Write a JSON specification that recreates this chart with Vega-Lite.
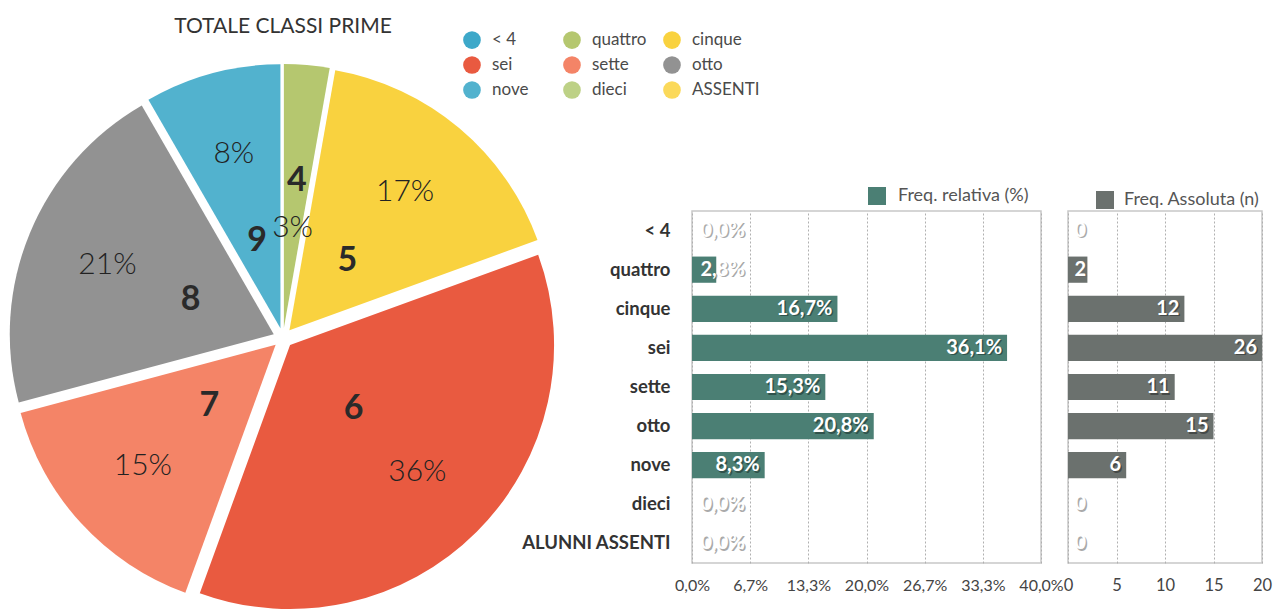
{
  "$schema": "https://vega.github.io/schema/vega-lite/v6.json",
  "background": "white",
  "padding": {"left": 0, "top": 16, "right": 0, "bottom": 0},
  "config": {
    "font": "Lato",
    "view": {"stroke": "#c8c8c8", "strokeWidth": 1.5}
  },
  "datasets": {
    "d": [
      {"ord": 1, "cat": "< 4", "label": "< 4", "digit": "", "n": 0, "pct": 0, "pctLabel": "0,0%", "pieLabel": "0%"},
      {"ord": 2, "cat": "quattro", "label": "quattro", "digit": "4", "n": 2, "pct": 2.78, "pctLabel": "2,8%", "pieLabel": "3%"},
      {"ord": 3, "cat": "cinque", "label": "cinque", "digit": "5", "n": 12, "pct": 16.67, "pctLabel": "16,7%", "pieLabel": "17%"},
      {"ord": 4, "cat": "sei", "label": "sei", "digit": "6", "n": 26, "pct": 36.11, "pctLabel": "36,1%", "pieLabel": "36%"},
      {"ord": 5, "cat": "sette", "label": "sette", "digit": "7", "n": 11, "pct": 15.28, "pctLabel": "15,3%", "pieLabel": "15%"},
      {"ord": 6, "cat": "otto", "label": "otto", "digit": "8", "n": 15, "pct": 20.83, "pctLabel": "20,8%", "pieLabel": "21%"},
      {"ord": 7, "cat": "nove", "label": "nove", "digit": "9", "n": 6, "pct": 8.33, "pctLabel": "8,3%", "pieLabel": "8%"},
      {"ord": 8, "cat": "dieci", "label": "dieci", "digit": "10", "n": 0, "pct": 0, "pctLabel": "0,0%", "pieLabel": "0%"},
      {"ord": 9, "cat": "ASSENTI", "label": "ALUNNI ASSENTI", "digit": "", "n": 0, "pct": 0, "pctLabel": "0,0%", "pieLabel": "0%"}
    ]
  },
  "spacing": -46,
  "hconcat": [
    {
      "width": 566,
      "height": 254,
      "view": {"stroke": null},
      "title": {"text": "TOTALE CLASSI PRIME", "fontSize": 21, "fontWeight": "normal", "color": "#333333", "offset": 27, "anchor": "middle"},
      "data": {"name": "d"},
      "encoding": {
        "theta": {"field": "n", "type": "quantitative", "stack": true},
        "order": {"field": "ord", "type": "quantitative"}
      },
      "layer": [
        {
          "mark": {
            "type": "arc",
            "outerRadius": 264,
            "xOffset": {"expr": "10*sin(PI*(datum.n_start+datum.n_end)/72)"},
            "yOffset": {"expr": "-10*cos(PI*(datum.n_start+datum.n_end)/72)"}
          },
          "encoding": {
            "color": {
              "field": "cat",
              "type": "nominal",
              "sort": null,
              "scale": {
                "domain": ["< 4", "quattro", "cinque", "sei", "sette", "otto", "nove", "dieci", "ASSENTI"],
                "range": ["#3DA8C9", "#B5C76F", "#F9D23F", "#E95A40", "#F48467", "#929292", "#52B2CE", "#BDD186", "#FBD95A"]
              },
              "legend": {
                "orient": "none",
                "direction": "horizontal",
                "legendX": 463,
                "legendY": -180,
                "title": null,
                "columns": 3,
                "gridAlign": "all",
                "columnPadding": 3,
                "rowPadding": 7,
                "padding": 0,
                "symbolType": "circle",
                "symbolSize": 313,
                "symbolStrokeWidth": 0,
                "labelFontSize": 17,
                "labelColor": "#4a4a4a",
                "labelOffset": 11
              }
            }
          }
        },
        {
          "mark": {"type": "text", "radius": 190, "fontSize": 30, "fontWeight": 300, "fill": "#222222", "baseline": "middle"},
          "encoding": {"text": {"condition": {"test": "datum.n > 0 && datum.cat !== 'quattro'", "field": "pieLabel"}, "value": ""}}
        },
        {
          "mark": {"type": "text", "radius": 100, "fontSize": 34, "fontWeight": "bold", "fill": "#2a2a2a", "baseline": "middle"},
          "encoding": {"text": {"condition": {"test": "datum.n > 0 && datum.cat !== 'quattro'", "field": "digit"}, "value": ""}}
        },
        {
          "mark": {"type": "text", "radius": 110, "fontSize": 30, "fontWeight": 300, "fill": "#222222", "baseline": "middle"},
          "encoding": {"text": {"condition": {"test": "datum.cat === 'quattro'", "field": "pieLabel"}, "value": ""}}
        },
        {
          "mark": {"type": "text", "radius": 158, "fontSize": 34, "fontWeight": "bold", "fill": "#2a2a2a", "baseline": "middle"},
          "encoding": {"text": {"condition": {"test": "datum.cat === 'quattro'", "field": "digit"}, "value": ""}}
        }
      ]
    },
    {
      "spacing": -2,
      "resolve": {"scale": {"fill": "independent"}},
      "hconcat": [
        {
          "width": 349,
          "height": 352,
          "data": {"name": "d"},
          "encoding": {
            "y": {
              "field": "label",
              "type": "nominal",
              "sort": null,
              "scale": {"paddingInner": 0.33, "paddingOuter": 0.165},
              "axis": {"title": null, "domain": false, "ticks": false, "labelFontSize": 18.5, "labelFontWeight": "bold", "labelColor": "#333333", "labelPadding": 22}
            }
          },
          "layer": [
            {
              "mark": {"type": "bar"},
              "encoding": {
                "x": {
                  "field": "pct",
                  "type": "quantitative",
                  "scale": {"domain": [0, 40], "nice": false},
                  "axis": {
                    "title": null,
                    "values": [0, 6.6667, 13.3333, 20, 26.6667, 33.3333, 40],
                    "labelExpr": "replace(format(datum.value, '.1f'), '.', ',') + '%'",
                    "labelOverlap": false,
                    "labelFlush": false,
                    "grid": true,
                    "gridDash": [2, 2],
                    "gridColor": "#b0b0b0",
                    "gridWidth": 1,
                    "domain": false,
                    "ticks": false,
                    "labelFontSize": 16,
                    "labelColor": "#444444",
                    "labelPadding": 14
                  }
                },
                "fill": {
                  "datum": "Freq. relativa (%)",
                  "scale": {"range": ["#4B7F74"]},
                  "legend": {"orient": "none", "legendX": 176, "legendY": -24, "title": null, "padding": 0, "symbolType": "square", "symbolSize": 324, "symbolStrokeWidth": 0, "labelFontSize": 18, "labelColor": "#555555", "labelOffset": 12}
                }
              }
            },
            {
              "transform": [{"filter": "datum.pct >= 5"}],
              "mark": {"type": "text", "align": "right", "baseline": "middle", "dx": -3.5, "dy": 1.5, "fontSize": 20, "fontWeight": "bold", "fill": "#000000", "opacity": 0.35},
              "encoding": {"x": {"field": "pct", "type": "quantitative"}, "text": {"field": "pctLabel"}}
            },
            {
              "transform": [{"filter": "datum.pct >= 5"}],
              "mark": {"type": "text", "align": "right", "baseline": "middle", "dx": -5, "fontSize": 20, "fontWeight": "bold", "fill": "white"},
              "encoding": {"x": {"field": "pct", "type": "quantitative"}, "text": {"field": "pctLabel"}}
            },
            {
              "transform": [{"filter": "datum.pct < 5"}],
              "mark": {"type": "text", "align": "left", "baseline": "middle", "dx": 10, "dy": 1.5, "fontSize": 20, "fontWeight": "bold", "fill": "#666666", "opacity": 0.55},
              "encoding": {"x": {"datum": 0}, "text": {"field": "pctLabel"}}
            },
            {
              "transform": [{"filter": "datum.pct < 5"}],
              "mark": {"type": "text", "align": "left", "baseline": "middle", "dx": 8.5, "fontSize": 20, "fontWeight": "bold", "fill": "white"},
              "encoding": {"x": {"datum": 0}, "text": {"field": "pctLabel"}}
            }
          ]
        },
        {
          "width": 194,
          "height": 352,
          "data": {"name": "d"},
          "encoding": {
            "y": {
              "field": "label",
              "type": "nominal",
              "sort": null,
              "scale": {"paddingInner": 0.33, "paddingOuter": 0.165},
              "axis": null
            }
          },
          "layer": [
            {
              "mark": {"type": "bar"},
              "encoding": {
                "x": {
                  "field": "n",
                  "type": "quantitative",
                  "scale": {"domain": [0, 20], "nice": false, "clamp": true},
                  "axis": {
                    "title": null,
                    "values": [0, 5, 10, 15, 20],
                    "labelOverlap": false,
                    "labelFlush": false,
                    "grid": true,
                    "gridDash": [2, 2],
                    "gridColor": "#b0b0b0",
                    "gridWidth": 1,
                    "domain": false,
                    "ticks": false,
                    "labelFontSize": 16.5,
                    "labelColor": "#444444",
                    "labelPadding": 14
                  }
                },
                "fill": {
                  "datum": "Freq. Assoluta (n)",
                  "scale": {"range": ["#6B716E"]},
                  "legend": {"orient": "none", "legendX": 28, "legendY": -20, "title": null, "padding": 0, "symbolType": "square", "symbolSize": 324, "symbolStrokeWidth": 0, "labelFontSize": 18, "labelColor": "#555555", "labelOffset": 10}
                }
              }
            },
            {
              "transform": [{"filter": "datum.n >= 5"}],
              "mark": {"type": "text", "align": "right", "baseline": "middle", "dx": -3.5, "dy": 1.5, "fontSize": 20, "fontWeight": "bold", "fill": "#000000", "opacity": 0.35},
              "encoding": {"x": {"field": "n", "type": "quantitative"}, "text": {"field": "n", "type": "quantitative"}}
            },
            {
              "transform": [{"filter": "datum.n >= 5"}],
              "mark": {"type": "text", "align": "right", "baseline": "middle", "dx": -5, "fontSize": 20, "fontWeight": "bold", "fill": "white"},
              "encoding": {"x": {"field": "n", "type": "quantitative"}, "text": {"field": "n", "type": "quantitative"}}
            },
            {
              "transform": [{"filter": "datum.n < 5"}],
              "mark": {"type": "text", "align": "left", "baseline": "middle", "dx": 8, "dy": 1.5, "fontSize": 20, "fontWeight": "bold", "fill": "#666666", "opacity": 0.55},
              "encoding": {"x": {"datum": 0}, "text": {"field": "n", "type": "quantitative"}}
            },
            {
              "transform": [{"filter": "datum.n < 5"}],
              "mark": {"type": "text", "align": "left", "baseline": "middle", "dx": 6.5, "fontSize": 20, "fontWeight": "bold", "fill": "white"},
              "encoding": {"x": {"datum": 0}, "text": {"field": "n", "type": "quantitative"}}
            }
          ]
        }
      ]
    }
  ]
}
